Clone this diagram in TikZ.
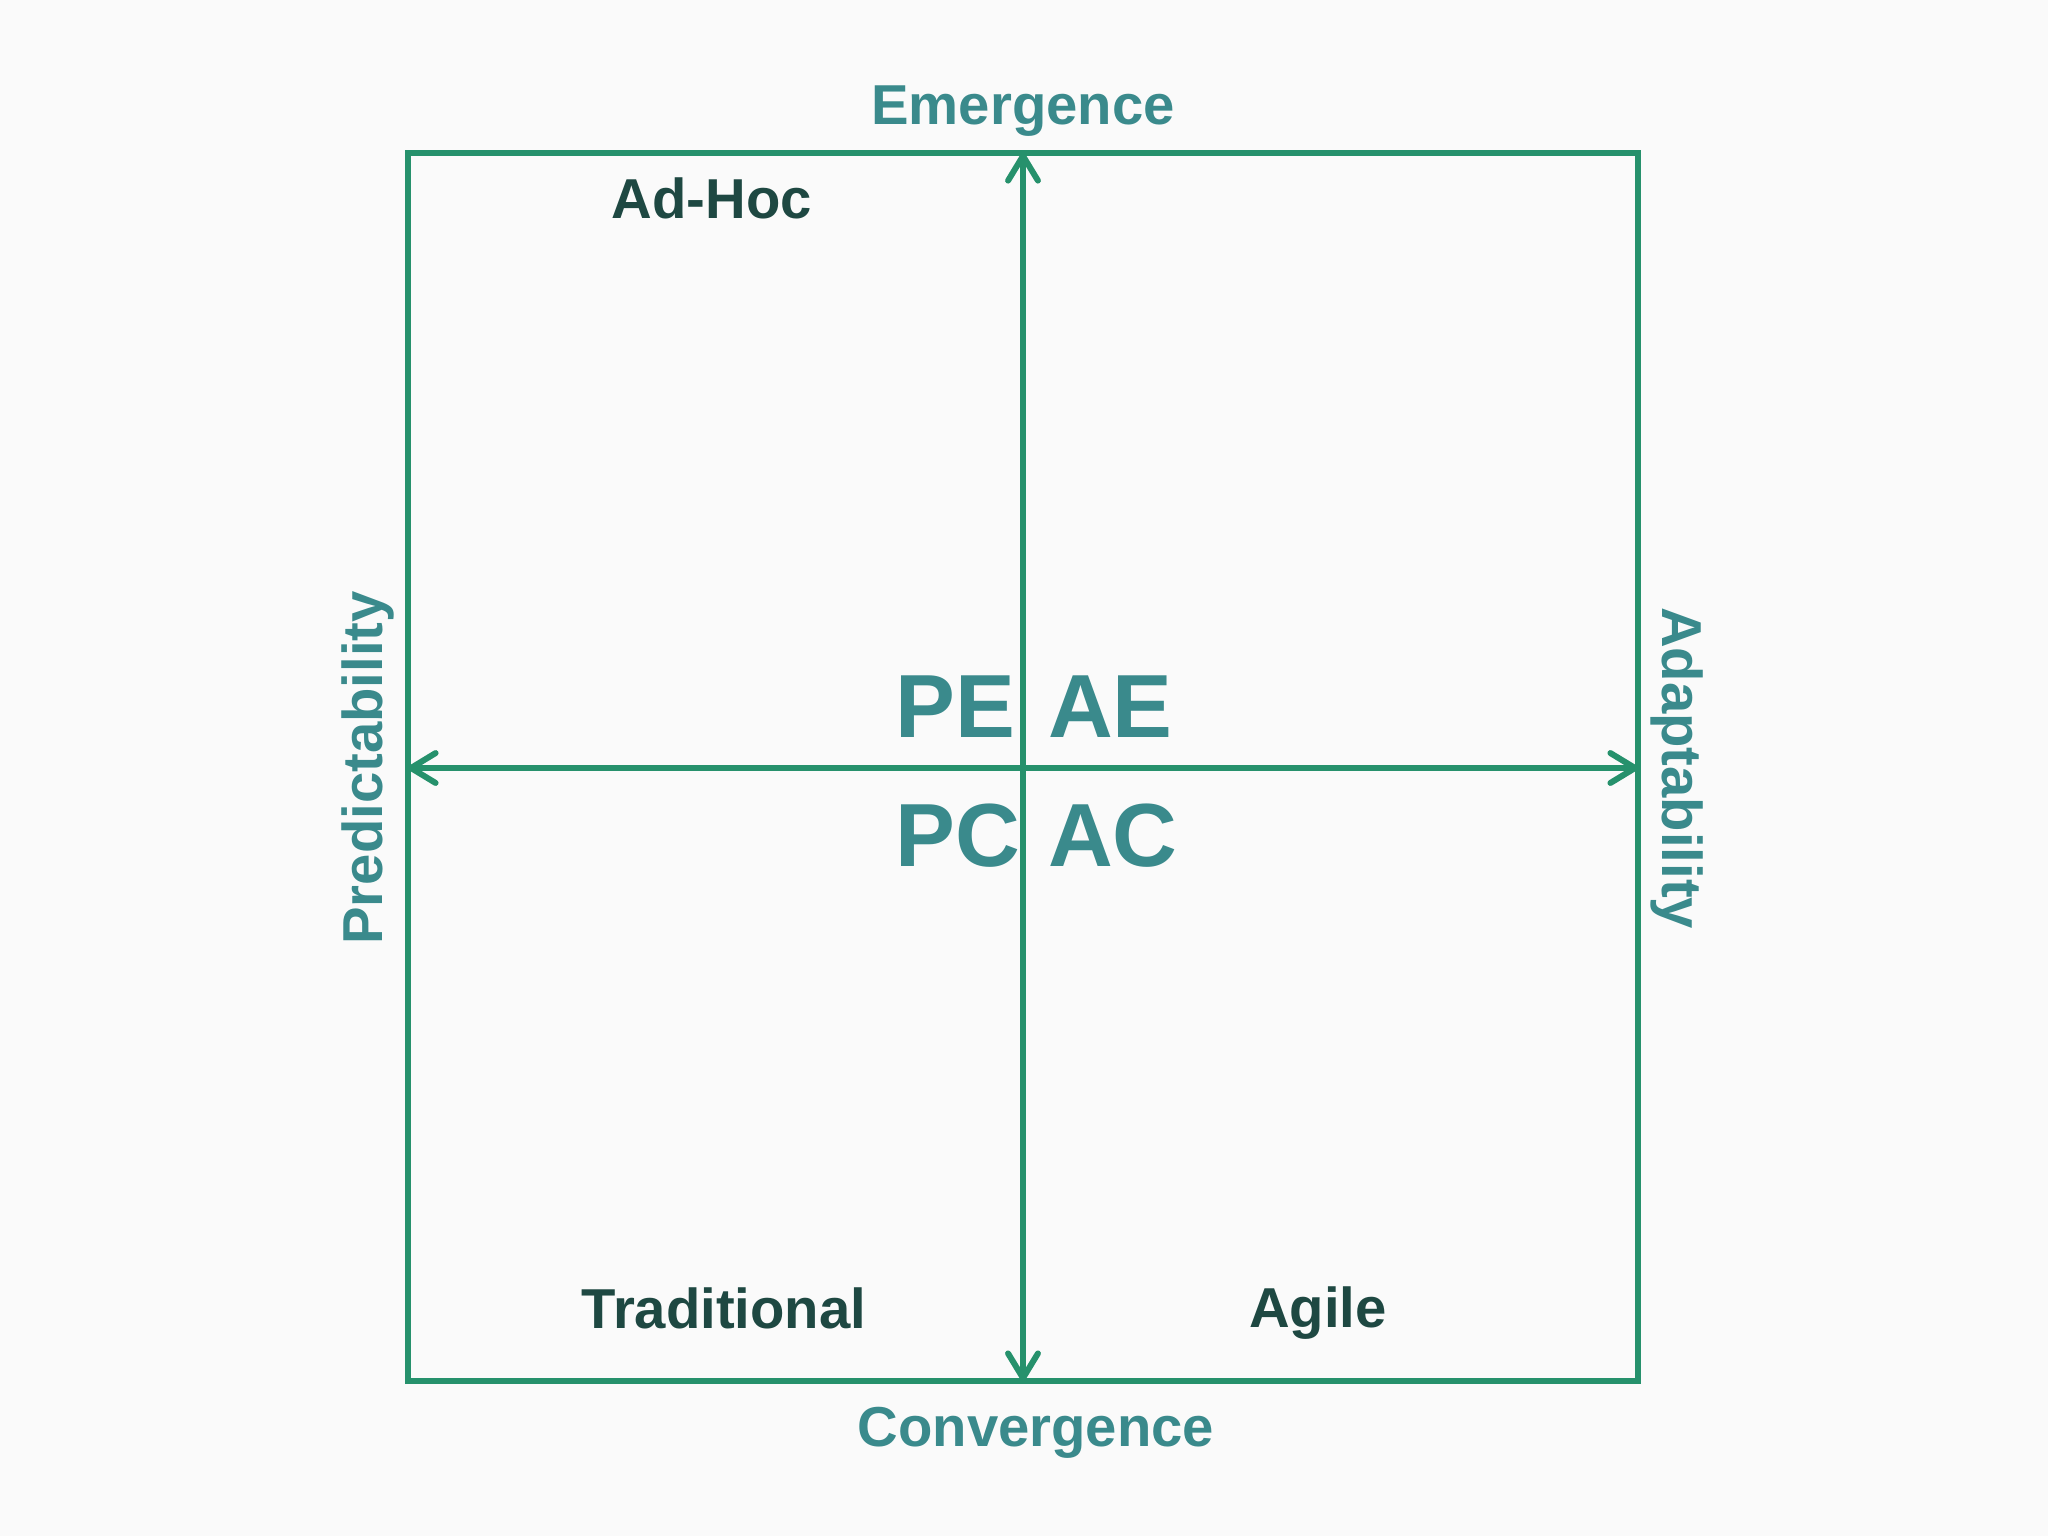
\documentclass[tikz,border=0pt]{standalone}
\usepackage{fontspec}
\setmainfont{Liberation Sans}
\usetikzlibrary{arrows.meta, positioning, calc}
\definecolor{boxgreen}{RGB}{38,145,108}
\definecolor{axisteal}{RGB}{58,138,140}
\definecolor{darkteal}{RGB}{30,72,66}
\definecolor{paper}{RGB}{250,250,250}

\begin{document}
\begin{tikzpicture}[x=0.01cm, y=-0.01cm, line width=1.7pt, >={Straight Barb[length=7pt, width=8.5pt, round]},
  axislabel/.style={inner sep=0, text=axisteal, font=\fontsize{16}{19}\selectfont\bfseries},
  quadrant/.style={inner sep=0, text=axisteal, font=\fontsize{25.5}{31}\selectfont\bfseries, anchor=base west},
  corner/.style={inner sep=0, text=darkteal, font=\fontsize{16}{19}\selectfont\bfseries, anchor=base}]

\useasboundingbox (0,0) rectangle (2048,1536);
\fill[paper] (0,0) rectangle (2048,1536);

\coordinate (nw) at (408,153);
\coordinate (se) at (1638,1381);
\coordinate (top) at (1023,153);
\coordinate (bottom) at (1023,1381);
\coordinate (left) at (408,768);
\coordinate (right) at (1638,768);
\coordinate (mid) at (1023,768);

\draw[boxgreen] (nw) rectangle (se);
\draw[<->, boxgreen] (left) -- (right);
\draw[<->, boxgreen] (top) -- (bottom);

% axis names
\node[axislabel, above=0.14cm of top] (emergence) {Emergence};
\node[axislabel, below=0.23cm of bottom, xshift=0.13cm] (convergence) {Convergence};
\node[axislabel, rotate=90, anchor=south] (predictability) at ([xshift=-0.11cm]left) {Predictability};
\node[axislabel, rotate=-90, anchor=south] (adaptability) at ([xshift=0.1cm]right) {Adaptability};

% quadrant codes
\node[quadrant] (pe) at ([shift={(-130,-31)}]mid) {PE};
\node[quadrant] (ae) at ([shift={(22,-31)}]mid) {AE};
\node[quadrant] (pc) at ([shift={(-130,98)}]mid) {PC};
\node[quadrant] (ac) at ([shift={(22,98)}]mid) {AC};

\node[corner] (adhoc) at (712,218) {Ad-Hoc};
\node[corner] (traditional) at (724,1328) {Traditional};
\node[corner] (agile) at (1318,1327) {Agile};

\end{tikzpicture}
\end{document}
